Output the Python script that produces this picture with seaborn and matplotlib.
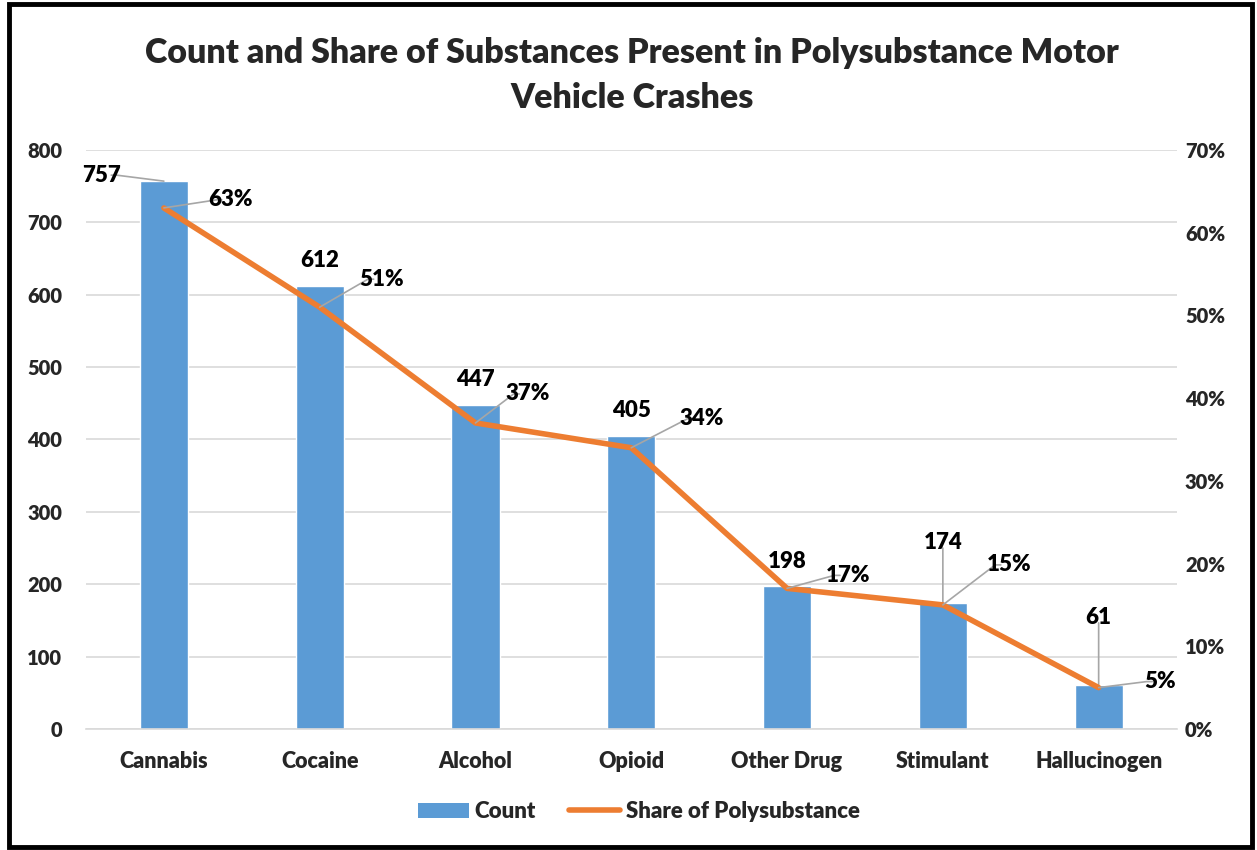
import matplotlib
matplotlib.use("Agg")
import matplotlib.pyplot as plt
from matplotlib.patches import Rectangle, Patch
from matplotlib.lines import Line2D
import seaborn as sns
import pandas as pd

# Data
substances = ["Cannabis", "Cocaine", "Alcohol", "Opioid", "Other Drug", "Stimulant", "Hallucinogen"]
counts = [757, 612, 447, 405, 198, 174, 61]
shares = [0.63, 0.51, 0.37, 0.34, 0.17, 0.15, 0.05]
count_ticks = [0, 100, 200, 300, 400, 500, 600, 700, 800]
share_ticks = [0.0, 0.1, 0.2, 0.3, 0.4, 0.5, 0.6, 0.7]
title = "Count and Share of Substances Present in Polysubstance Motor\nVehicle Crashes"

df = pd.DataFrame({"Substance": substances, "Count": counts, "Share": shares})

BLUE = "#5B9BD5"
ORANGE = "#ED7D31"
GRID = "#D9D9D9"
LEADER = "#A6A6A6"
W = "heavy"

sns.set_theme(style="white")
plt.rcParams["font.family"] = ["Lato", "DejaVu Sans"]
plt.rcParams["font.weight"] = W

fig = plt.figure(figsize=(12.57, 8.5), dpi=100)
ax = fig.add_axes([0.0684, 0.1424, 0.8676, 0.6811])

sns.barplot(data=df, x="Substance", y="Count", color=BLUE, saturation=1,
            width=0.31, ax=ax, zorder=2)
ax.set_ylim(0, 800)
ax.set_yticks(count_ticks)
ax.set_xlim(-0.5, len(substances) - 0.5)
ax.yaxis.grid(True, color=GRID, linewidth=1.2, zorder=0)
ax.set_axisbelow(True)
for side in ["left", "right", "top"]:
    ax.spines[side].set_visible(False)
ax.spines["bottom"].set_color(GRID)
ax.spines["bottom"].set_linewidth(1.2)
ax.set_xlabel("")
ax.set_ylabel("")
ax.tick_params(axis="both", length=0)
ax.tick_params(axis="y", pad=17, labelsize=14.5)
ax.tick_params(axis="x", pad=16, labelsize=15.5)
for lbl in ax.get_xticklabels() + ax.get_yticklabels():
    lbl.set_fontweight(W)

ax2 = ax.twinx()
sns.lineplot(data=df, x="Substance", y="Share", color=ORANGE, linewidth=4,
             sort=False, ax=ax2, zorder=3)
ax2.set_ylim(0, 0.7)
ax2.set_yticks(share_ticks)
ax2.set_yticklabels([f"{int(round(t * 100))}%" for t in share_ticks], fontweight=W)
ax2.tick_params(axis="y", length=0, labelsize=14.5, pad=6)
ax2.set_ylabel("")
for side in ["left", "right", "top", "bottom"]:
    ax2.spines[side].set_visible(False)
if ax2.get_legend() is not None:
    ax2.get_legend().remove()

lbl_kw = dict(fontsize=16, fontweight=W, color="black", textcoords="offset pixels",
              annotation_clip=False)

# Count labels: (dx, dy, ha, va, leader)
count_pos = [(-43, 6, "right", "center", "elbow"),
             (0, 15, "center", "bottom", None),
             (0, 15, "center", "bottom", None),
             (0, 15, "center", "bottom", None),
             (0, 14, "center", "bottom", None),
             (0, 50, "center", "bottom", "straight"),
             (0, 57, "center", "bottom", "straight")]
for i, (c, (dx, dy, ha, va, leader)) in enumerate(zip(counts, count_pos)):
    kw = dict(lbl_kw)
    if leader == "elbow":
        kw["arrowprops"] = dict(arrowstyle="-", color=LEADER, lw=1.2, shrinkA=7, shrinkB=0,
                                patchA=None,
                                connectionstyle="arc,angleA=0,armA=15,angleB=0,armB=0,rad=0")
    elif leader == "straight":
        kw["arrowprops"] = dict(arrowstyle="-", color=LEADER, lw=1.2, shrinkA=4, shrinkB=0,
                                patchA=None)
    ax.annotate(f"{c}", xy=(i, c), xytext=(dx, dy), ha=ha, va=va, zorder=5, **kw)

# Share labels with elbow leaders
share_pos = [(44, 8), (40, 28), (30, 29), (48, 29), (39, 13), (44, 40), (46, 6)]
for i, (s, (dx, dy)) in enumerate(zip(shares, share_pos)):
    ax2.annotate(f"{int(round(s * 100))}%", xy=(i, s), xytext=(dx, dy), ha="left", va="center",
                 zorder=5,
                 arrowprops=dict(arrowstyle="-", color=LEADER, lw=1.2, shrinkA=6, shrinkB=0,
                                 patchA=None,
                                 connectionstyle="arc,angleA=180,armA=14,angleB=0,armB=0,rad=0"),
                 **lbl_kw)

fig.suptitle(title, x=0.503, y=0.957, fontsize=24.5, fontweight=W, linespacing=1.5)

handles = [Patch(facecolor=BLUE, edgecolor="none"),
           Line2D([0], [0], color=ORANGE, linewidth=4, solid_capstyle="round")]
fig.legend(handles, ["Count", "Share of Polysubstance"], loc="center",
           bbox_to_anchor=(0.508, 0.045), ncol=2, frameon=False,
           prop={"size": 16, "weight": W}, handlelength=2.3, handletextpad=0.25,
           columnspacing=1.5)

fig.add_artist(Rectangle((0.0075, 0.003), 0.9885, 0.992, transform=fig.transFigure,
                         fill=False, edgecolor="black", linewidth=3.5))

fig.savefig("out.png", dpi=100, facecolor="white")
